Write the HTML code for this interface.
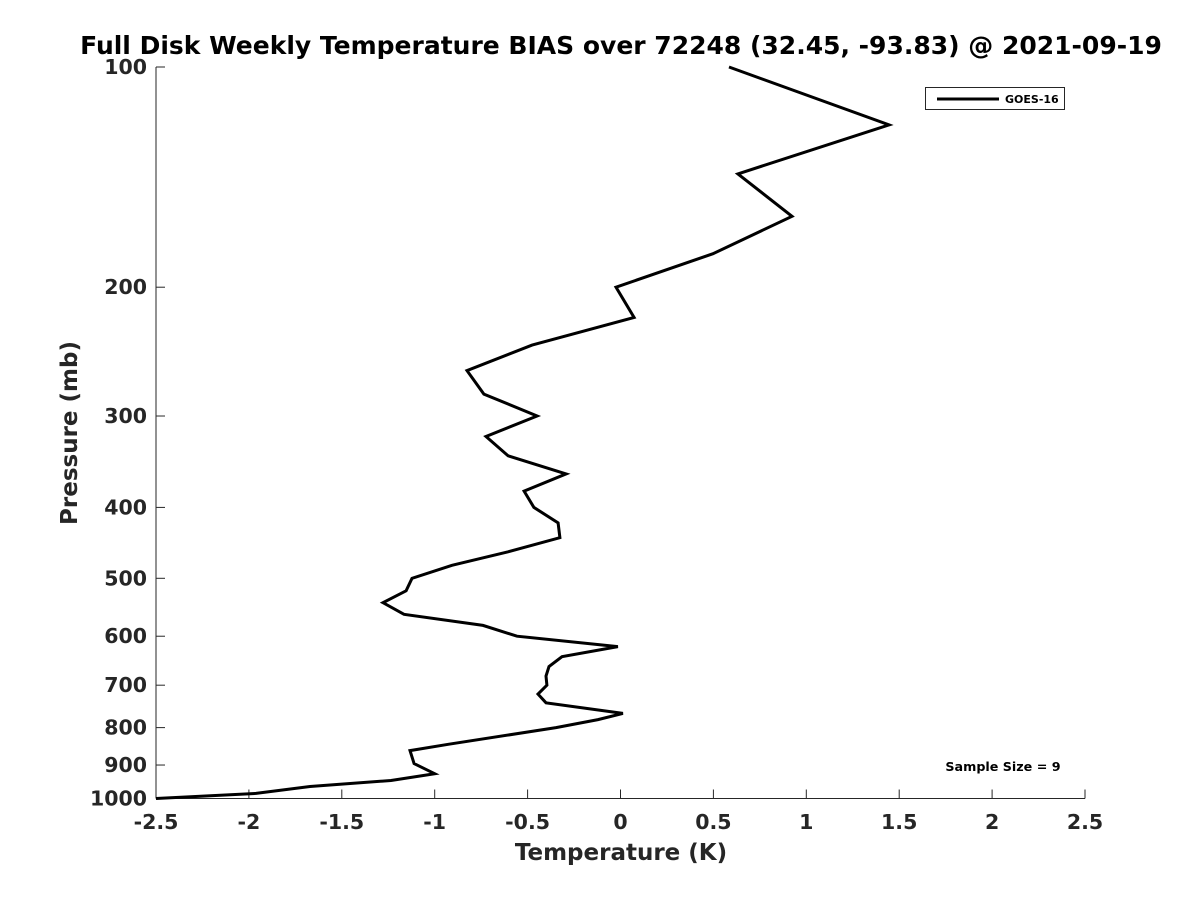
<!DOCTYPE html>
<html><head><meta charset="utf-8"><style>
body{margin:0;background:#fff;}
svg text{font-family:"DejaVu Sans","Liberation Sans",sans-serif;font-weight:bold;fill:#262626;}
</style></head><body>
<svg id="chart" width="1200" height="900" xmlns="http://www.w3.org/2000/svg">
<text x="621" y="54" text-anchor="middle" font-size="25" style="fill:#000">Full Disk Weekly Temperature BIAS over 72248 (32.45, -93.83) @ 2021-09-19</text>
<g id="axes"></g>
<path id="line" fill="none" stroke="#000" stroke-width="3" stroke-linejoin="miter"/>
<g>
<rect x="925.5" y="87.5" width="139" height="22" fill="#fff" stroke="#262626"/>
<line x1="937" y1="99" x2="999" y2="99" stroke="#000" stroke-width="3"/>
<text x="1005" y="103" font-size="11" style="fill:#000">GOES-16</text>
</g>
<text x="1003" y="771" text-anchor="middle" font-size="12.7" style="fill:#000">Sample Size = 9</text>
<text x="621" y="860" text-anchor="middle" font-size="23">Temperature (K)</text>
<text transform="translate(77,433) rotate(-90)" text-anchor="middle" font-size="23">Pressure (mb)</text>
</svg>
<script>
const xTicks=[-2.5,-2,-1.5,-1,-0.5,0,0.5,1,1.5,2,2.5];
const xTickLabels=["-2.5","-2","-1.5","-1","-0.5","0","0.5","1","1.5","2","2.5"];
const yTicks=[100,200,300,400,500,600,700,800,900,1000];
const pressure=[100,120,140,160,180,200,220,240,260,280,300,320,340,360,380,400,420,440,460,480,500,520,540,560,580,600,620,640,660,680,700,720,740,765,780,800,843,860,896,925,945,963,984,1000];
const bias=[0.584,1.445,0.632,0.923,0.498,-0.024,0.073,-0.476,-0.826,-0.735,-0.449,-0.724,-0.605,-0.293,-0.519,-0.466,-0.336,-0.326,-0.605,-0.907,-1.122,-1.154,-1.278,-1.165,-0.740,-0.557,-0.014,-0.315,-0.385,-0.401,-0.396,-0.444,-0.401,0.013,-0.121,-0.347,-0.923,-1.133,-1.111,-1.0,-1.235,-1.671,-1.962,-2.5];
const X0=156,X1=1085,Y0=67,Y1=798.5;
const xs=v=>X0+(v+2.5)/5*(X1-X0);
const ys=p=>Y0+Math.log10(p/100)*(Y1-Y0);
const NS="http://www.w3.org/2000/svg";
const ax=document.getElementById('axes');
function mk(t,a){const e=document.createElementNS(NS,t);for(const k in a)e.setAttribute(k,a[k]);return e;}
let l=mk('line',{x1:X0,y1:Y0,x2:X0,y2:Y1,stroke:'#262626','stroke-width':1});

ax.appendChild(l);
l=mk('line',{x1:X0,y1:Y1,x2:X1,y2:Y1,stroke:'#262626','stroke-width':1});

ax.appendChild(l);
xTicks.forEach((v,i)=>{const x=xs(v);
 const t=mk('line',{x1:x,y1:Y1,x2:x,y2:Y1-9,stroke:'#262626'});
 
 ax.appendChild(t);
 const tx=mk('text',{x:x,y:829,'text-anchor':'middle','font-size':20.5});tx.textContent=xTickLabels[i];
 
 ax.appendChild(tx);});
yTicks.forEach(p=>{const y=ys(p);
 const t=mk('line',{x1:X0,y1:y,x2:X0+9,y2:y,stroke:'#262626'});
 
 ax.appendChild(t);
 const tx=mk('text',{x:X0-9,y:y+7,'text-anchor':'end','font-size':20.5});tx.textContent=p;
 
 ax.appendChild(tx);});
document.getElementById('line').setAttribute('d',pressure.map((p,i)=>(i?'L':'M')+xs(bias[i]).toFixed(1)+','+ys(p).toFixed(1)).join(''));
</script>
</body></html>
